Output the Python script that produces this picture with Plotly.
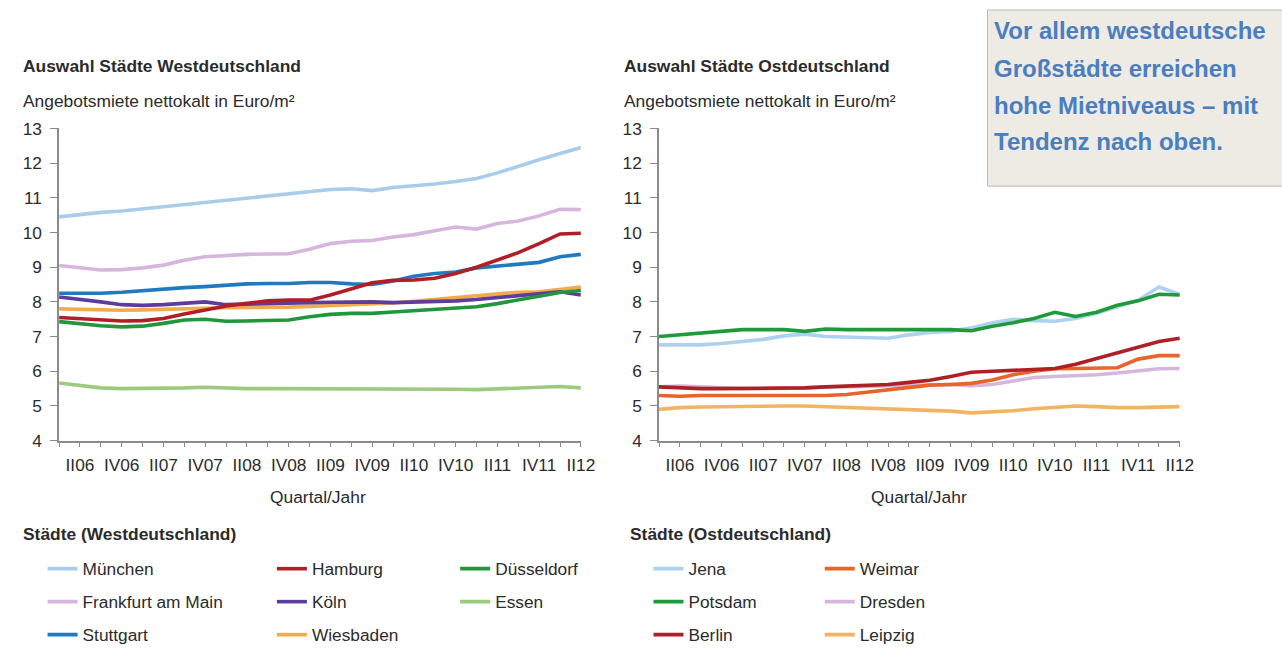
import plotly.graph_objects as go

# Quarters from I/2006 to II/2012
quarters = ["I06", "II06", "III06", "IV06",
            "I07", "II07", "III07", "IV07",
            "I08", "II08", "III08", "IV08",
            "I09", "II09", "III09", "IV09",
            "I10", "II10", "III10", "IV10",
            "I11", "II11", "III11", "IV11",
            "I12", "II12"]
# Only the II and IV quarters carry a label
tick_labels = ["", "II06", "", "IV06",
               "", "II07", "", "IV07",
               "", "II08", "", "IV08",
               "", "II09", "", "IV09",
               "", "II10", "", "IV10",
               "", "II11", "", "IV11",
               "", "II12"]

y_ticks = [4, 5, 6, 7, 8, 9, 10, 11, 12, 13]

# Asking rents (net, cold) in Euro/m², West German cities
muenchen = [10.45, 10.52, 10.58, 10.62, 10.68, 10.75, 10.81, 10.87, 10.94, 11.0, 11.06, 11.12, 11.18,
            11.24, 11.26, 11.21, 11.3, 11.34, 11.4, 11.47, 11.56, 11.72, 11.92, 12.1, 12.28, 12.45]
frankfurt = [9.05, 8.98, 8.92, 8.93, 8.98, 9.06, 9.2, 9.3, 9.34, 9.37, 9.38, 9.39, 9.52,
             9.68, 9.75, 9.77, 9.87, 9.94, 10.05, 10.16, 10.1, 10.26, 10.33, 10.48, 10.67, 10.66]
stuttgart = [8.25, 8.25, 8.25, 8.28, 8.33, 8.37, 8.41, 8.44, 8.48, 8.52, 8.53, 8.53, 8.56,
             8.56, 8.52, 8.5, 8.6, 8.74, 8.82, 8.86, 8.98, 9.03, 9.08, 9.14, 9.3, 9.37]
hamburg = [7.55, 7.52, 7.48, 7.45, 7.46, 7.52, 7.65, 7.76, 7.88, 7.96, 8.03, 8.05, 8.05,
           8.2, 8.38, 8.55, 8.62, 8.63, 8.68, 8.82, 9.0, 9.22, 9.42, 9.68, 9.96, 9.98]
koeln = [8.14, 8.08, 8.0, 7.92, 7.9, 7.92, 7.96, 8.0, 7.92, 7.94, 7.96, 7.97, 7.98,
         7.99, 8.0, 8.0, 7.98, 7.99, 8.0, 8.03, 8.07, 8.13, 8.19, 8.24, 8.29, 8.2]
wiesbaden = [7.8, 7.78, 7.76, 7.76, 7.77, 7.79, 7.8, 7.82, 7.83, 7.84, 7.84, 7.85, 7.87,
             7.89, 7.91, 7.94, 7.97, 8.02, 8.07, 8.11, 8.18, 8.23, 8.28, 8.29, 8.35, 8.43]
duesseldorf = [7.43, 7.36, 7.31, 7.28, 7.3, 7.38, 7.48, 7.5, 7.44, 7.45, 7.47, 7.48, 7.57,
               7.64, 7.67, 7.67, 7.71, 7.75, 7.78, 7.82, 7.86, 7.95, 8.05, 8.17, 8.27, 8.33]
essen = [5.66, 5.58, 5.52, 5.5, 5.5, 5.5, 5.52, 5.54, 5.51, 5.5, 5.5, 5.5, 5.5,
         5.5, 5.5, 5.5, 5.5, 5.5, 5.5, 5.48, 5.47, 5.49, 5.52, 5.55, 5.56, 5.52]

# Asking rents (net, cold) in Euro/m², East German cities
jena = [6.76, 6.76, 6.76, 6.8, 6.85, 6.92, 7.02, 7.07, 7.0, 6.98, 6.97, 6.95, 7.05,
        7.12, 7.15, 7.25, 7.4, 7.5, 7.46, 7.44, 7.52, 7.67, 7.86, 8.05, 8.43, 8.22]
potsdam = [7.0, 7.05, 7.1, 7.14, 7.2, 7.2, 7.2, 7.15, 7.22, 7.2, 7.2, 7.2, 7.2,
           7.2, 7.2, 7.17, 7.3, 7.4, 7.52, 7.7, 7.58, 7.7, 7.9, 8.03, 8.22, 8.2]
berlin = [5.55, 5.52, 5.5, 5.5, 5.5, 5.5, 5.5, 5.52, 5.55, 5.58, 5.6, 5.62, 5.68,
          5.74, 5.85, 5.97, 6.0, 6.03, 6.04, 6.08, 6.2, 6.37, 6.53, 6.7, 6.86, 6.95]
weimar = [5.3, 5.28, 5.3, 5.3, 5.3, 5.3, 5.3, 5.3, 5.3, 5.33, 5.4, 5.47, 5.55,
          5.6, 5.62, 5.65, 5.75, 5.9, 6.0, 6.07, 6.08, 6.08, 6.1, 6.35, 6.45, 6.45]
dresden = [5.55, 5.57, 5.55, 5.52, 5.5, 5.5, 5.5, 5.52, 5.55, 5.55, 5.56, 5.58, 5.6,
           5.62, 5.62, 5.58, 5.62, 5.72, 5.82, 5.85, 5.87, 5.9, 5.95, 6.0, 6.07, 6.08]
leipzig = [4.9, 4.95, 4.97, 4.98, 5.0, 5.0, 5.0, 5.0, 4.98, 4.95, 4.92, 4.9, 4.88,
           4.87, 4.85, 4.8, 4.83, 4.86, 4.92, 4.97, 5.0, 4.98, 4.95, 4.95, 4.97, 4.98]

FONT = "Liberation Sans, Arial, Helvetica, sans-serif"
TEXT = "#2b2b2b"
AXIS = "#8a8a8a"

# Figure size in CSS pixels
W, H = 1298, 684
# Layout positions below are written in displayed pixels; the page shows the
# figure slightly scaled and shifted, so they are converted back here.
SX, SY, OY = 0.9877, 0.9766, 7.8


def fx(x):
    return x / SX


def fy(y):
    return (y - OY) / SY


def px_x(x):
    return fx(x) / W


def px_y(y):
    return 1 - fy(y) / H


# (name, values, colour, legend column, legend rank), listed in drawing order
west = [
    ("Essen", essen, "#9ccb80", "legend3", 2),
    ("München", muenchen, "#a9cde9", "legend", 1),
    ("Frankfurt am Main", frankfurt, "#d6b6dd", "legend", 2),
    ("Wiesbaden", wiesbaden, "#f2ab4c", "legend2", 3),
    ("Köln", koeln, "#5e3c9c", "legend2", 2),
    ("Düsseldorf", duesseldorf, "#22963c", "legend3", 1),
    ("Stuttgart", stuttgart, "#1f7ac2", "legend", 3),
    ("Hamburg", hamburg, "#b11f26", "legend2", 1),
]
east = [
    ("Leipzig", leipzig, "#f1b462", "legend5", 3),
    ("Dresden", dresden, "#d6b6dd", "legend5", 2),
    ("Jena", jena, "#add2ee", "legend4", 1),
    ("Weimar", weimar, "#e8642b", "legend5", 1),
    ("Berlin", berlin, "#b11f26", "legend4", 3),
    ("Potsdam", potsdam, "#1f9a3b", "legend4", 2),
]

fig = go.Figure()
for name, vals, col, leg, rank in west:
    fig.add_trace(go.Scatter(x=quarters, y=vals, name=name, mode="lines",
                             line=dict(color=col, width=3.6),
                             xaxis="x", yaxis="y", legend=leg,
                             legendgroup=name, legendrank=rank))
for name, vals, col, leg, rank in east:
    fig.add_trace(go.Scatter(x=quarters, y=vals, name=name, mode="lines",
                             line=dict(color=col, width=3.6),
                             xaxis="x2", yaxis="y2", legend=leg,
                             legendgroup=name, legendrank=rank))

xaxis_common = dict(
    type="category", categoryorder="array", categoryarray=quarters,
    range=[0, len(quarters) - 1],
    tickmode="array", tickvals=quarters, ticktext=tick_labels,
    ticks="outside", ticklen=5, tickwidth=1, tickcolor=AXIS,
    showline=True, linecolor=AXIS, linewidth=1.5,
    showgrid=False, zeroline=False, tickangle=0,
    tickfont=dict(family=FONT, size=17.3, color=TEXT),
    ticklabelstandoff=3,
)
yaxis_common = dict(
    range=[4, 13], tickmode="array", tickvals=y_ticks,
    ticks="outside", ticklen=7, tickwidth=1, tickcolor=AXIS,
    showline=True, linecolor=AXIS, linewidth=1.5,
    showgrid=False, zeroline=False,
    tickfont=dict(family=FONT, size=17.3, color=TEXT),
    ticklabelstandoff=5,
)

legend_common = dict(
    orientation="v", xanchor="left", yanchor="top",
    bgcolor="rgba(0,0,0,0)", borderwidth=0,
    font=dict(family=FONT, size=17.3, color=TEXT),
    tracegroupgap=7.5, itemclick=False, itemdoubleclick=False,
)

# Legend columns: left edge of the item text (displayed pixels)
LEG_TEXT_X = [82, 311, 494, 687, 858]
LEG_FIRST_ROW = 568


def leg_x(text_x):
    return (fx(text_x) - 40) / W


leg_top = 1 - (fy(LEG_FIRST_ROW) - 16.4) / H

fig.update_layout(
    width=W, height=H, autosize=False,
    margin=dict(l=0, r=0, t=0, b=0),
    paper_bgcolor="white", plot_bgcolor="white",
    font=dict(family=FONT, size=17.3, color=TEXT),
    showlegend=True,
    xaxis=dict(domain=[px_x(59), px_x(580)], anchor="y", **xaxis_common),
    yaxis=dict(domain=[px_y(441), px_y(127)], anchor="x", **yaxis_common),
    xaxis2=dict(domain=[px_x(658), px_x(1178)], anchor="y2", **xaxis_common),
    yaxis2=dict(domain=[px_y(441), px_y(127)], anchor="x2", **yaxis_common),
    legend=dict(x=leg_x(LEG_TEXT_X[0]), y=leg_top, **legend_common),
    legend2=dict(x=leg_x(LEG_TEXT_X[1]), y=leg_top, **legend_common),
    legend3=dict(x=leg_x(LEG_TEXT_X[2]), y=leg_top, **legend_common),
    legend4=dict(x=leg_x(LEG_TEXT_X[3]), y=leg_top, **legend_common),
    legend5=dict(x=leg_x(LEG_TEXT_X[4]), y=leg_top, **legend_common),
)

# Highlight box in the upper right corner
fig.add_shape(type="rect", xref="paper", yref="paper",
              x0=px_x(986), x1=1.0, y0=px_y(185), y1=1.0,
              fillcolor="#edebe3", line=dict(color="#b9b9b5", width=1), layer="below")

box_lines = ["Vor allem westdeutsche", "Großstädte erreichen",
             "hohe Mietniveaus – mit", "Tendenz nach oben."]
for text, yc in zip(box_lines, [28.5, 66.5, 103.5, 140.5]):
    fig.add_annotation(text="<b>%s</b>" % text, xref="paper", yref="paper",
                       x=px_x(990), y=px_y(yc), xanchor="left", yanchor="middle",
                       showarrow=False, font=dict(family=FONT, size=24, color="#4a7ebf"))

labels = [
    ("<b>Auswahl Städte Westdeutschland</b>", 21, 64.5, "left"),
    ("Angebotsmiete nettokalt in Euro/m²", 21, 99, "left"),
    ("Quartal/Jahr", 318, 498, "center"),
    ("<b>Städte (Westdeutschland)</b>", 21, 535, "left"),
    ("<b>Auswahl Städte Ostdeutschland</b>", 621, 64.5, "left"),
    ("Angebotsmiete nettokalt in Euro/m²", 621, 99, "left"),
    ("Quartal/Jahr", 918, 498, "center"),
    ("<b>Städte (Ostdeutschland)</b>", 627, 535, "left"),
]
for text, x, y, anchor in labels:
    fig.add_annotation(text=text, xref="paper", yref="paper",
                       x=px_x(x), y=px_y(y), xanchor=anchor, yanchor="middle",
                       showarrow=False, font=dict(family=FONT, size=17.4, color=TEXT))

fig.write_html("out.html", config={"displayModeBar": False})
